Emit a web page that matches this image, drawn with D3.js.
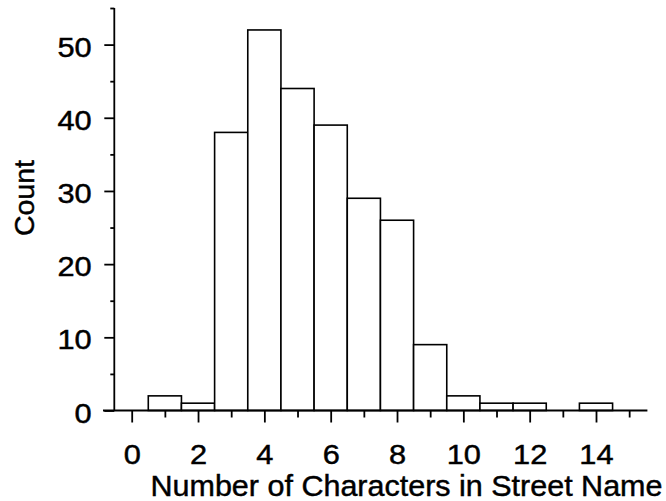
<!DOCTYPE html>
<html>
<head>
<meta charset="utf-8">
<script src="https://cdn.jsdelivr.net/npm/d3@7"></script>
<style>
  html, body { margin: 0; padding: 0; background: #fff; }
  svg { display: block; }
  text { font-family: "Liberation Sans", Arial, Helvetica, sans-serif; fill: #000; stroke: #000; stroke-width: 0.45px; }
</style>
</head>
<body>
<svg id="chart" width="666" height="501"></svg>
<script>
// Street-name lengths: one bin per character count (bins centred on integers)
const lengths = [1, 2, 3, 4, 5, 6, 7, 8, 9, 10, 11, 12, 13, 14];
const counts  = [2, 1, 38, 52, 44, 39, 29, 26, 9, 2, 1, 1, 0, 1];
const xMajorTicks = [0, 2, 4, 6, 8, 10, 12, 14];
const xMinorTicks = [1, 3, 5, 7, 9, 11, 13, 15];
const yMajorTicks = [0, 10, 20, 30, 40, 50];
const yMinorTicks = [5, 15, 25, 35, 45, 55];
const xTitle = "Number of Characters in Street Name";
const yTitle = "Count";

const svg = d3.select("#chart");

const x = d3.scaleLinear().domain([0, 14]).range([131.7, 596]);
const y = d3.scaleLinear().domain([0, 55]).range([410.5, 8]);

const bins = lengths.map((k, i) => ({ k, n: counts[i] })).filter(d => d.n > 0);

// bars
svg.append("g")
  .selectAll("rect")
  .data(bins)
  .join("rect")
  .attr("x", d => x(d.k - 0.5))
  .attr("width", d => x(d.k + 0.5) - x(d.k - 0.5))
  .attr("y", d => y(d.n))
  .attr("height", d => y(0) - y(d.n))
  .attr("fill", "#fff")
  .attr("stroke", "#000")
  .attr("stroke-width", 1.6);

const axisStyle = g => {
  g.selectAll("path, line").attr("stroke", "#000").attr("stroke-width", 1.8);
};
// slightly widened lettering for the tick labels
const stretch = 1.12;
const tickFont = 27.5;

// y axis: major ticks with labels, minor ticks without
const yAxisX = x(0) - 17.4;
const yAxis = svg.append("g")
  .attr("transform", `translate(${yAxisX},0)`)
  .call(d3.axisLeft(y).tickValues(yMajorTicks).tickSize(10).tickSizeOuter(0))
  .call(axisStyle);
yAxis.select(".domain").attr("d", `M0,${y(55)}V${y(0)}`);
yAxis.selectAll(".tick text")
  .attr("font-size", tickFont)
  .attr("font-family", "Liberation Sans, Arial, sans-serif")
  .attr("x", -22.6 / stretch)
  .attr("dy", null)
  .attr("y", 11.5)
  .attr("transform", `scale(${stretch},1)`);
svg.append("g")
  .attr("transform", `translate(${yAxisX},0)`)
  .call(d3.axisLeft(y).tickValues(yMinorTicks).tickSize(4).tickFormat(""))
  .call(g => g.select(".domain").remove())
  .call(axisStyle);

// x axis
const xAxis = svg.append("g")
  .attr("transform", `translate(0,${y(0)})`)
  .call(d3.axisBottom(x).tickValues(xMajorTicks).tickSize(12).tickSizeOuter(0))
  .call(axisStyle);
xAxis.select(".domain").attr("d", `M${yAxisX - 11.3},0H${x(15.55)}`);
xAxis.selectAll(".tick text")
  .attr("font-size", tickFont)
  .attr("font-family", "Liberation Sans, Arial, sans-serif")
  .attr("dy", null)
  .attr("y", 53.5)
  .attr("transform", `scale(${stretch},1)`);
svg.append("g")
  .attr("transform", `translate(0,${y(0)})`)
  .call(d3.axisBottom(x).tickValues(xMinorTicks).tickSize(7).tickFormat(""))
  .call(g => g.select(".domain").remove())
  .call(axisStyle);

// axis titles
svg.append("text")
  .attr("x", 150.5)
  .attr("y", 496)
  .attr("font-size", 29.5)
  .attr("textLength", 512)
  .attr("lengthAdjust", "spacingAndGlyphs")
  .text(xTitle);

svg.append("text")
  .attr("transform", "translate(34,198) rotate(-90)")
  .attr("text-anchor", "middle")
  .attr("font-size", 28.5)
  .text(yTitle);
</script>
</body>
</html>
